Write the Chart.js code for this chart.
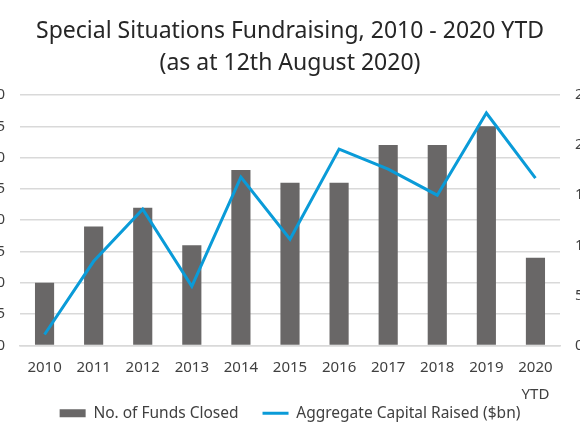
<!DOCTYPE html>
<html>
<head>
<meta charset="utf-8">
<script src="https://cdn.jsdelivr.net/npm/chart.js@4/dist/chart.umd.min.js"></script>
<style>
  html, body { margin: 0; padding: 0; background: #fff; }
  #wrap { position: relative; width: 580px; height: 435px; overflow: hidden; }
  #grafica { position: absolute; left: -30px; top: 0; }
</style>
</head>
<body>
<div id="wrap"><canvas id="grafica" width="640" height="435"></canvas></div>
<script>
// data
const anios = ['2010', '2011', '2012', '2013', '2014', '2015', '2016', '2017', '2018', '2019', ['2020', 'YTD']];
const fondosCerrados = [10, 19, 22, 16, 28, 26, 26, 32, 32, 35, 14];
const capitalRecaudado = [1.1, 8.4, 13.6, 5.9, 16.8, 10.6, 19.6, 17.6, 15.0, 23.2, 16.7];
const ticksIzq = { min: 0, max: 40, step: 5 };
const ticksDer = { min: 0, max: 25, step: 5 };

const fuente = '"Noto Sans", Lato, sans-serif';
const gris = '#696767';
const azul = '#0a9bd8';

const grafica = document.getElementById('grafica');

// the x axis is squeezed so the legend sits close under it,
// then its box is stretched back so the "YTD" line is not clipped
const ejeXCompleto = {
    id: 'ejeXCompleto',
    afterLayout(chart) {
        const x = chart.scales.x;
        x.bottom = chart.height;
        x.height = x.bottom - x.top;
    }
};

new Chart(grafica, {
    data: {
        labels: anios,
        datasets: [{
            type: 'bar',
            label: 'No. of Funds Closed',
            data: fondosCerrados,
            backgroundColor: gris,
            borderWidth: 0,
            barPercentage: 0.39,
            categoryPercentage: 1,
            yAxisID: 'y',
            pointStyle: 'rect',
            order: 1
        }, {
            type: 'line',
            label: 'Aggregate Capital Raised ($bn)',
            data: capitalRecaudado,
            borderColor: azul,
            backgroundColor: azul,
            borderWidth: 3,
            pointRadius: 0,
            tension: 0,
            yAxisID: 'y1',
            pointStyle: 'line',
            order: 0
        }]
    },
    options: {
        responsive: false,
        animation: false,
        layout: { padding: { top: 0, bottom: 4, left: 0, right: 0 } },
        scales: {
            x: {
                grid: { display: false },
                border: { color: '#d9d9d9', width: 1.5 },
                ticks: { color: '#404040', font: { family: fuente, size: 15, lineHeight: 1.8 }, maxRotation: 0, padding: 1 },
                afterFit: (escala) => { escala.height = 36; }
            },
            y: {
                position: 'left',
                min: ticksIzq.min,
                max: ticksIzq.max,
                grid: { color: '#d9d9d9', lineWidth: 1.5, drawTicks: false },
                border: { display: false },
                ticks: { stepSize: ticksIzq.step, color: '#404040', font: { family: fuente, size: 15 }, padding: 15 },
                afterFit: (escala) => { escala.width = 50; }
            },
            y1: {
                position: 'right',
                min: ticksDer.min,
                max: ticksDer.max,
                grid: { drawOnChartArea: false, drawTicks: false },
                border: { display: false },
                ticks: { stepSize: ticksDer.step, color: '#404040', font: { family: fuente, size: 15 }, padding: 15 },
                afterFit: (escala) => { escala.width = 50; }
            }
        },
        plugins: {
            title: {
                display: true,
                text: ['Special Situations Fundraising, 2010 - 2020 YTD', '(as at 12th August 2020)'],
                color: '#262626',
                font: { family: fuente, size: 23, weight: 'normal', lineHeight: 1.39 },
                padding: { top: 15, bottom: 16 }
            },
            legend: {
                position: 'bottom',
                labels: {
                    usePointStyle: true,
                    pointStyleWidth: 26,
                    boxHeight: 8,
                    padding: 24,
                    color: '#404040',
                    font: { family: fuente, size: 15.5 },
                    sort: (a, b) => a.datasetIndex - b.datasetIndex
                }
            },
            tooltip: { enabled: false }
        }
    },
    plugins: [ejeXCompleto]
});
</script>
</body>
</html>
